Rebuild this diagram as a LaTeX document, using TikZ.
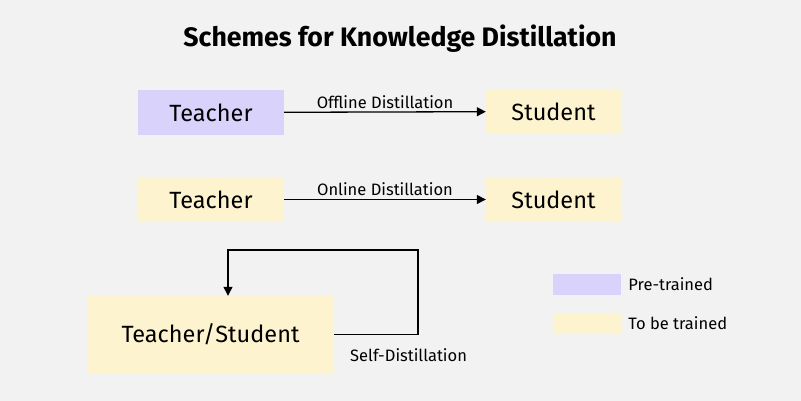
\documentclass[tikz,border=0pt]{standalone}
\usepackage{fontspec}
\setmainfont{Fira Sans}
\usetikzlibrary{arrows.meta}
\definecolor{bgcol}{HTML}{F2F2F2}
\definecolor{pretrained}{HTML}{D9D3FB}
\definecolor{totrain}{HTML}{FDF4CF}
\tikzset{
    modelbox/.style={minimum width=146pt, minimum height=45pt, inner sep=0pt, font=\fontsize{23.5}{28}\selectfont},
    legendbox/.style={minimum width=68pt, minimum height=21pt, inner sep=0pt},
    flow/.style={-{Triangle[length=9pt,width=9pt]}, line width=1.3pt},
    lbl/.style={font=\fontsize{16.5}{20}\selectfont, inner sep=1pt}
}
\begin{document}
\begin{tikzpicture}[x=1pt, y=-1pt]
        % Background and frame
        \fill[bgcol] (0,0) rectangle (801,401);
        \useasboundingbox (0,0) rectangle (801,401);
    
        % Title
        \node (title) at (400,39) {\fontsize{26.7}{32}\selectfont\bfseries Schemes for Knowledge Distillation};
    
        % Offline scheme
        \node[modelbox, fill=pretrained] (teacherA) at (211,112.5) {Teacher};
        \node[modelbox, fill=totrain, minimum width=135pt] (studentA) at (553.5,111.5) {Student};
        \draw[flow] (teacherA) -- (studentA) node[lbl, midway, above=2pt] {Offline Distillation};
    
        % Online scheme
        \node[modelbox, fill=totrain] (teacherB) at (211,199.5) {Teacher};
        \node[modelbox, fill=totrain, minimum width=135pt] (studentB) at (553.5,199.5) {Student};
        \draw[flow] (teacherB) -- (studentB) node[lbl, midway, above=2pt] {Online Distillation};
    
        % Self distillation
        \node[modelbox, fill=totrain, minimum width=247pt, minimum height=77pt] (selfmodel) at (210.5,334.5) {Teacher/Student};
        \coordinate (loopR) at (418,250);
        \draw[flow] (selfmodel.east) -| (loopR) -| (selfmodel.north -| 228,0);
        \node[lbl, anchor=west] (selflabel) at (349,355) {Self-Distillation};
    
        % Legend
        \node[legendbox, fill=pretrained] (legendA) at (587,284.5) {};
        \node[lbl, anchor=west] (legendAtext) at (legendA.east) [xshift=6pt] {Pre-trained};
        \node[legendbox, fill=totrain] (legendB) at (587,323) {};
        \node[lbl, anchor=west] (legendBtext) at (legendB.east) [xshift=6pt] {To be trained};
    \end{tikzpicture}
\end{document}
